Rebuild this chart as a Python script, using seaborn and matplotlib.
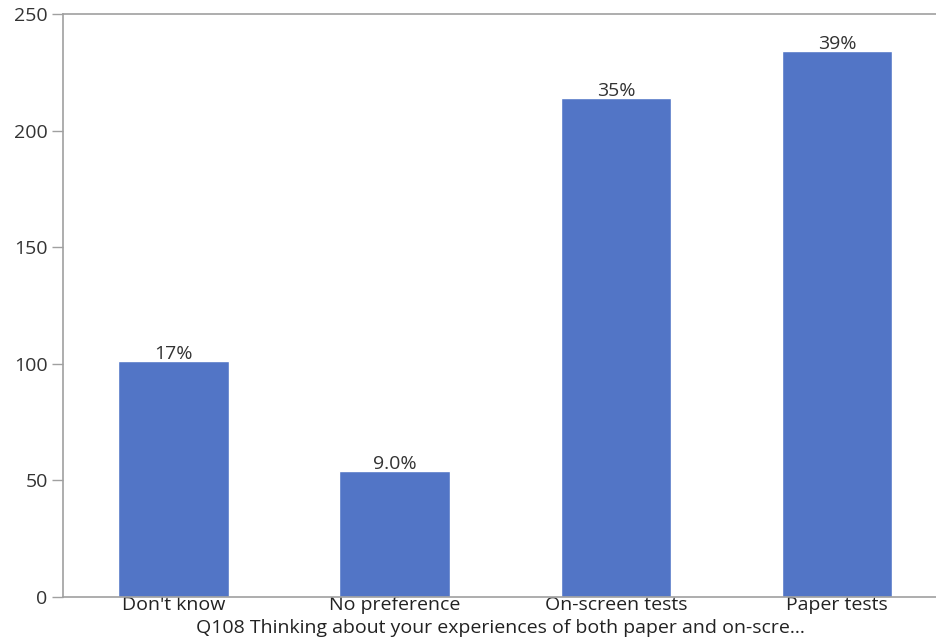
import matplotlib
matplotlib.use("Agg")
import matplotlib.pyplot as plt
import seaborn as sns
import pandas as pd

# Survey responses for Q108
categories = ["Don't know", "No preference", "On-screen tests", "Paper tests"]
counts = [101, 54, 214, 234]
pct_labels = ["17%", "9.0%", "35%", "39%"]
y_ticks = [0, 50, 100, 150, 200, 250]
x_title = "Q108 Thinking about your experiences of both paper and on-scre..."

sns.set_theme(style="white")
plt.rcParams["font.family"] = ["Open Sans", "DejaVu Sans"]

df = pd.DataFrame({"category": categories, "count": counts})

fig = plt.figure(figsize=(9.36, 6.37), dpi=100)
ax = fig.add_axes([63 / 936, 40 / 637, 884.5 / 936, 583 / 637])

bar_color = "#5275C6"
sns.barplot(data=df, x="category", y="count", color=bar_color, width=0.5,
            saturation=1, ax=ax)

for patch, lab in zip(ax.patches, pct_labels):
    ax.text(patch.get_x() + patch.get_width() / 2, patch.get_height() - 0.8, lab,
            ha="center", va="bottom", fontsize=14, color="#333333")

ax.set_xlim(-0.5, 3.5)
ax.set_ylim(0, 250)
ax.set_yticks(y_ticks)
ax.tick_params(axis="y", length=8, width=1, color="#A0A0A0", labelsize=14,
               labelcolor="#333333", pad=3, left=True)
ax.tick_params(axis="x", length=0, labelsize=14, labelcolor="#222222", pad=-1)
ax.set_xlabel(x_title, fontsize=14, color="#222222", va="baseline")
ax.xaxis.set_label_coords(0.495, -0.061)
ax.set_ylabel("")

for side in ["left", "top", "bottom"]:
    ax.spines[side].set_visible(True)
    ax.spines[side].set_color("#A0A0A0")
    ax.spines[side].set_linewidth(1.2)
ax.spines["right"].set_visible(False)

fig.savefig("out.png", dpi=100)
